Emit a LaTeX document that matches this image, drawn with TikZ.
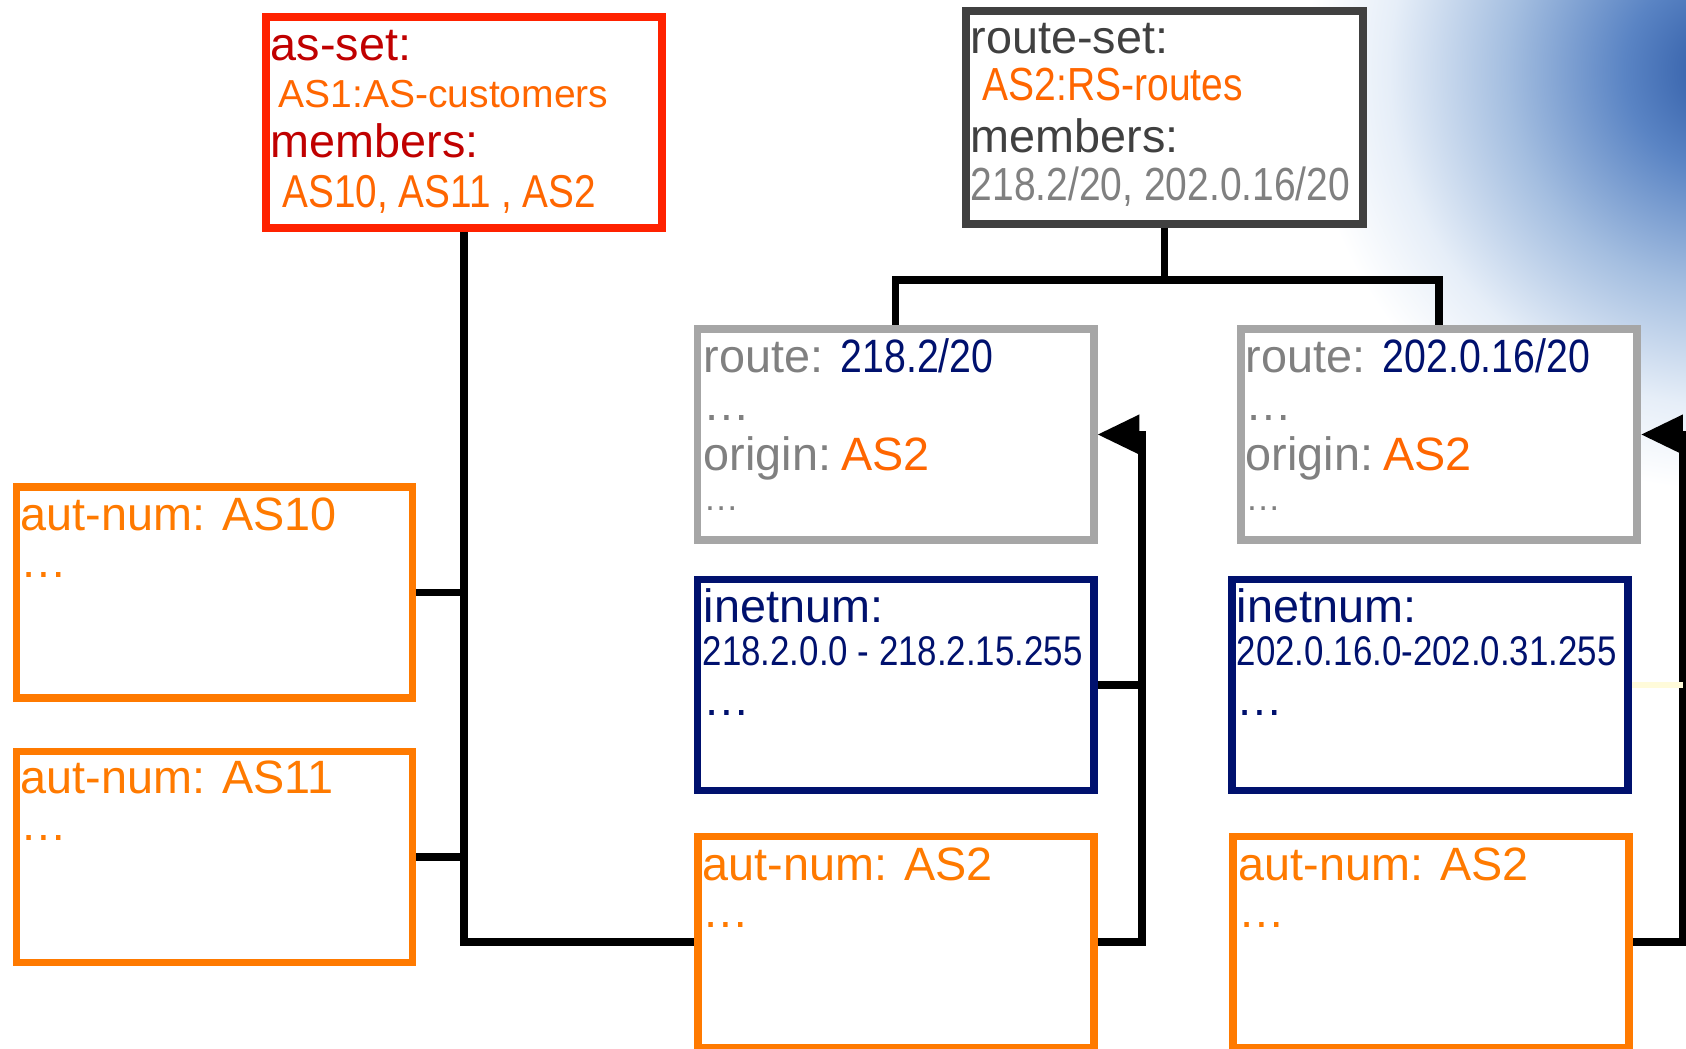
\documentclass[tikz,border=0pt]{standalone}
\usepackage{fontspec}
\setmainfont{Liberation Sans}
\newfontfamily\narrowfont[FakeStretch=0.84]{Liberation Sans}
\usetikzlibrary{arrows.meta}
%
\definecolor{setred}{HTML}{FF2200}
\definecolor{darkred}{HTML}{C00000}
\definecolor{txtorange}{HTML}{FF6600}
\definecolor{autorange}{HTML}{FF7A00}
\definecolor{navy}{HTML}{00116E}
\definecolor{routegray}{HTML}{A6A6A6}
\definecolor{txtgray}{HTML}{808080}
\definecolor{setgray}{HTML}{404040}
\definecolor{bgblue}{HTML}{2C58A4}
\definecolor{bgmid}{HTML}{5A84C4}
\definecolor{bglight}{HTML}{A4BEE0}
\definecolor{bgpale}{HTML}{E6EEF8}
\definecolor{paleyellow}{HTML}{FFFBDA}
%
\pgfdeclareradialshading{cornerglow}{\pgfpointorigin}{color(0bp)=(bgblue);
  color(6bp)=(bgmid); color(13bp)=(bglight); color(20bp)=(bgpale);
  color(25bp)=(white); color(50bp)=(white)}
%
\tikzset{
  obj/.style={draw, rectangle, fill=white, line width=2.2pt, inner sep=0pt,
    minimum width=3.96cm, minimum height=2.11cm},
  lbl/.style={inner sep=0pt, anchor=base west, font=\fontsize{13.3pt}{16pt}\selectfont},
  narrow/.style={font=\narrowfont\fontsize{#1}{16pt}\selectfont},
  wire/.style={line width=2.1pt, black},
  tip/.style={-{Triangle[length=11.9pt, width=10.8pt]}},
}
\begin{document}
\begin{tikzpicture}[x=0.01cm, y=-0.01cm]
      \useasboundingbox (0,0) rectangle (1686,1048);
      %
      \begin{scope}  % background corner
        \clip (0,0) rectangle (1686,1048);
        \shade[shading=cornerglow] (1725,70) circle (420);
      \end{scope}
      %
      % as-set
      \node[obj, draw=setred] (aset) at (464,122.5) {};
      \node[lbl, text=darkred] (asetKey) at (270,60) {as-set:};
      \node[lbl, text=txtorange, font=\fontsize{11.1pt}{13pt}\selectfont] (asetName) at (278,107) {AS1:AS-customers};
      \node[lbl, text=darkred] (asetMemKey) at (270,157) {members:};
      \node[lbl, text=txtorange, narrow=13.1pt] (asetMem) at (282,207) {AS10, AS11 , AS2};
      %
      % route-set
      \node[obj, draw=setgray, minimum width=3.97cm, minimum height=2.13cm] (rset) at (1164.5,117.5) {};
      \node[lbl, text=setgray] (rsetKey) at (970,53) {route-set:};
      \node[lbl, text=txtorange, narrow=13.2pt] (rsetName) at (982,100) {AS2:RS-routes};
      \node[lbl, text=setgray] (rsetMemKey) at (970,152) {members:};
      \node[lbl, text=txtgray, narrow=13.2pt] (rsetMem) at (970,200) {218.2/20, 202.0.16/20};
      %
      % routes
      \node[obj, draw=routegray] (rtA) at (895.5,434.5) {};
      \node[lbl, text=txtgray] (rtAkey) at (703,372) {route: {\narrowfont\color{navy}218.2/20}};
      \node[lbl, text=txtgray] (rtAdots) at (703,420) {…};
      \node[lbl, text=txtgray] (rtAorig) at (703,470) {origin:\kern-2pt{} \textcolor{txtorange}{AS2}};
      \node[lbl, text=txtgray, font=\fontsize{10pt}{12pt}\selectfont] (rtAmore) at (703,510) {…};
      %
      \node[obj, draw=routegray] (rtB) at (1439,434.5) {};
      \node[lbl, text=txtgray] (rtBkey) at (1245,372) {route: {\narrowfont\color{navy}202.0.16/20}};
      \node[lbl, text=txtgray] (rtBdots) at (1245,420) {…};
      \node[lbl, text=txtgray] (rtBorig) at (1245,470) {origin:\kern-2pt{} \textcolor{txtorange}{AS2}};
      \node[lbl, text=txtgray, font=\fontsize{10pt}{12pt}\selectfont] (rtBmore) at (1245,510) {…};
      %
      % inetnums
      \node[obj, draw=navy] (inA) at (895.5,685) {};
      \node[lbl, text=navy] (inAkey) at (703,622) {inetnum:};
      \node[lbl, text=navy, narrow=11.8pt] (inArange) at (702,665) {218.2.0.0 - 218.2.15.255};
      \node[lbl, text=navy] (inAdots) at (703,715) {…};
      %
      \node[obj, draw=navy] (inB) at (1430,685) {};
      \node[lbl, text=navy] (inBkey) at (1236,622) {inetnum:};
      \node[lbl, text=navy, narrow=11.8pt] (inBrange) at (1236,665) {202.0.16.0-202.0.31.255};
      \node[lbl, text=navy] (inBdots) at (1236,715) {…};
      %
      % aut-nums
      \node[obj, draw=autorange] (as10) at (214.5,592.5) {};
      \node[lbl, text=autorange] (as10key) at (20,530) {aut-num: AS10};
      \node[lbl, text=autorange] (as10dots) at (20,577) {…};
      \node[obj, draw=autorange] (as11) at (214.5,857) {};
      \node[lbl, text=autorange] (as11key) at (20,793) {aut-num: AS11};
      \node[lbl, text=autorange] (as11dots) at (20,840) {…};
      \node[obj, draw=autorange] (as2A) at (896,942) {};
      \node[lbl, text=autorange] (as2Akey) at (702,880) {aut-num: AS2};
      \node[lbl, text=autorange] (as2Adots) at (702,927) {…};
      \node[obj, draw=autorange] (as2B) at (1431,942) {};
      \node[lbl, text=autorange] (as2Bkey) at (1238,880) {aut-num: AS2};
      \node[lbl, text=autorange] (as2Bdots) at (1238,927) {…};
      %
      \coordinate (spineA) at (1142,942);
      \coordinate (spineB) at (1683,942);
      %
      \draw[wire] (aset.south) |- (as2A.west);            % members
      \draw[wire] (as10.east) -- (as10.east -| aset.south);
      \draw[wire] (as11.east) -- (as11.east -| aset.south);
      %
      \draw[wire] (rset.south) -- ++(0,52) -| (rtA.north);  % route-set members
      \draw[wire] (rset.south) -- ++(0,52) -| (rtB.north);
      %
      \draw[wire, tip] (as2A.east) -- (spineA) |- (rtA.east); % origin
      \draw[wire] (inA.east) -- (inA.east -| spineA);
      \draw[wire, tip] (as2B.east) -- (spineB) |- (rtB.east);
      \draw[line width=1.6pt, paleyellow] (inB.east) -- (inB.east -| spineB);
      %
    \end{tikzpicture}
\end{document}
